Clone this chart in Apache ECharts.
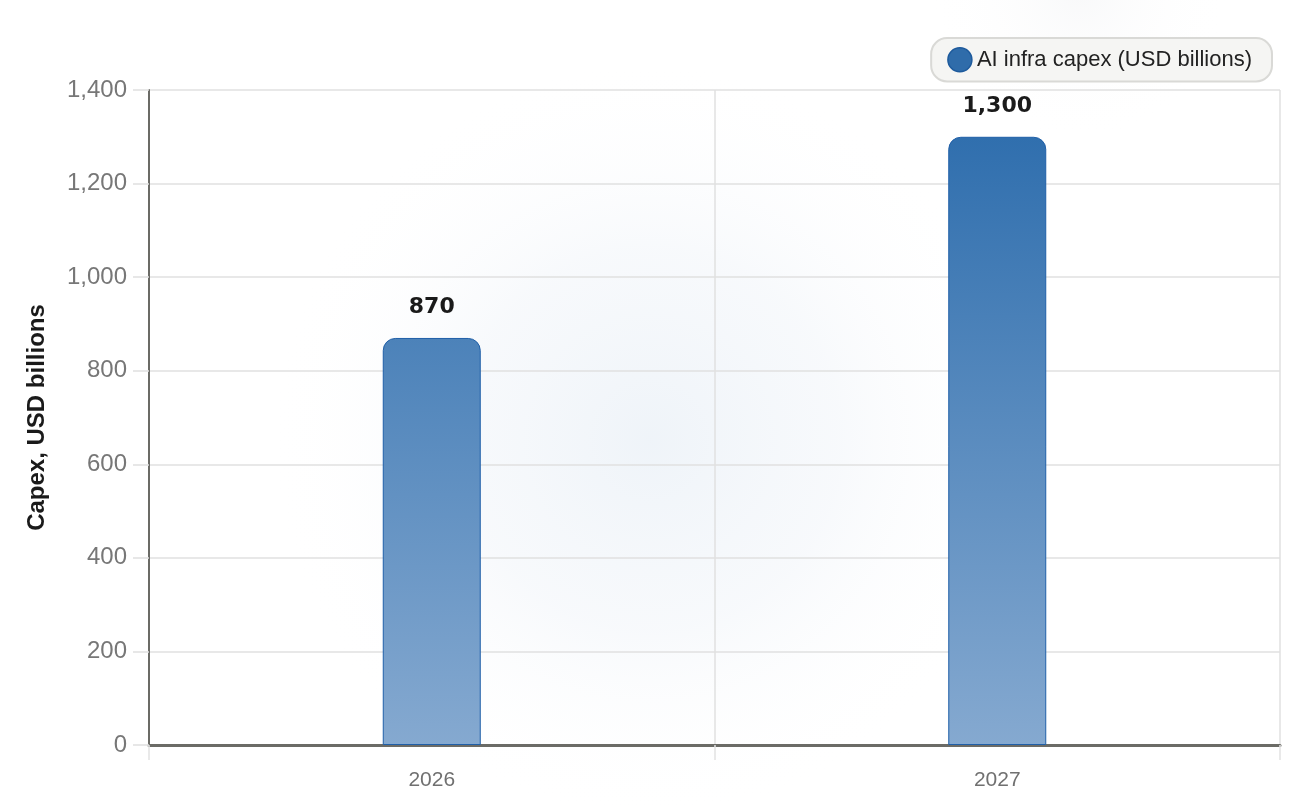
<!DOCTYPE html>
<html>
<head>
<meta charset="utf-8">
<script src="https://cdn.jsdelivr.net/npm/echarts@6/dist/echarts.min.js"></script>
<style>
  html, body { margin: 0; padding: 0; background: #ffffff; }
  #chart { width: 1316px; height: 808px; }
</style>
</head>
<body>
<div id="chart"></div>
<script>
// data
var years = ['2026', '2027'];
var capex = [870, 1300];
var seriesName = 'AI infra capex (USD billions)';
var yTitle = 'Capex, USD billions';

var chart = echarts.init(document.getElementById('chart'));

function fmt(v) {
  return Number(v).toLocaleString('en-US');
}

var option = {
  backgroundColor: '#ffffff',
  animation: false,
  // faint glow behind the plot
  graphic: [
    {
      type: 'rect', z: -10, silent: true,
      shape: { x: 120, y: 60, width: 1060, height: 760 },
      style: {
        fill: new echarts.graphic.RadialGradient(0.5, 0.5, 0.5, [
          { offset: 0, color: 'rgba(232,239,246,0.7)' },
          { offset: 0.5, color: 'rgba(240,244,249,0.5)' },
          { offset: 1, color: 'rgba(255,255,255,0)' }
        ])
      }
    },
    {
      type: 'rect', z: -10, silent: true,
      shape: { x: 760, y: -160, width: 640, height: 300 },
      style: {
        fill: new echarts.graphic.RadialGradient(0.5, 0.5, 0.5, [
          { offset: 0, color: 'rgba(240,241,243,0.45)' },
          { offset: 1, color: 'rgba(255,255,255,0)' }
        ])
      }
    }
  ],
  legend: {
    data: [seriesName],
    top: 38,
    right: 44,
    icon: 'circle',
    itemWidth: 24,
    itemHeight: 24,
    itemGap: 10,
    padding: [9, 20, 9, 16],
    backgroundColor: '#f5f5f3',
    borderColor: '#d9d9d6',
    borderWidth: 2,
    borderRadius: 16,
    textStyle: { fontSize: 22, color: '#222222', fontFamily: 'Liberation Sans, Arial, sans-serif' },
    itemStyle: { color: '#2f6caa', borderColor: '#1d5a9c', borderWidth: 1.5 }
  },
  grid: {
    left: 149,
    right: 36,
    top: 90,
    bottom: 63,
    containLabel: false
  },
  xAxis: {
    type: 'category',
    data: years,
    boundaryGap: true,
    axisLine: { show: true, lineStyle: { color: '#6b6b66', width: 3 } },
    axisTick: { show: true, length: 15, interval: 0, lineStyle: { color: '#e2e2e2', width: 1.5 } },
    splitLine: { show: true, interval: 0, lineStyle: { color: '#e0e0e0', width: 1.5 } },
    axisLabel: {
      fontSize: 21,
      color: '#707070',
      margin: 25,
      fontFamily: 'Liberation Sans, Arial, sans-serif'
    }
  },
  yAxis: {
    type: 'value',
    min: 0,
    max: 1400,
    interval: 200,
    name: yTitle,
    nameLocation: 'middle',
    nameGap: 100,
    nameTextStyle: {
      fontSize: 24,
      fontWeight: 'bold',
      color: '#1a1a1a',
      fontFamily: 'Liberation Sans, Arial, sans-serif'
    },
    axisLine: { show: true, lineStyle: { color: '#6b6b66', width: 2 } },
    axisTick: { show: true, length: 16, lineStyle: { color: '#e0e0e0', width: 1.5 } },
    splitLine: { show: true, lineStyle: { color: '#e0e0e0', width: 1.5 } },
    axisLabel: {
      fontSize: 24,
      color: '#777777',
      margin: 22,
      fontFamily: 'Liberation Sans, Arial, sans-serif',
      formatter: fmt
    }
  },
  series: [{
    name: seriesName,
    type: 'bar',
    data: capex,
    barWidth: 98,
    itemStyle: {
      // one gradient across the whole plot, so shorter bars start lighter
      color: new echarts.graphic.LinearGradient(0, 138, 0, 745, [
        { offset: 0, color: '#306fae' },
        { offset: 1, color: '#85a9d0' }
      ], true),
      borderColor: '#1f5fa8',
      borderWidth: 1,
      borderRadius: [12, 12, 0, 0]
    },
    label: {
      show: true,
      position: 'top',
      distance: 20,
      fontSize: 22,
      fontWeight: 'bold',
      color: '#1a1a1a',
      fontFamily: 'DejaVu Sans, sans-serif',
      formatter: function (p) { return fmt(p.value); }
    }
  }]
};

chart.setOption(option);
</script>
</body>
</html>
